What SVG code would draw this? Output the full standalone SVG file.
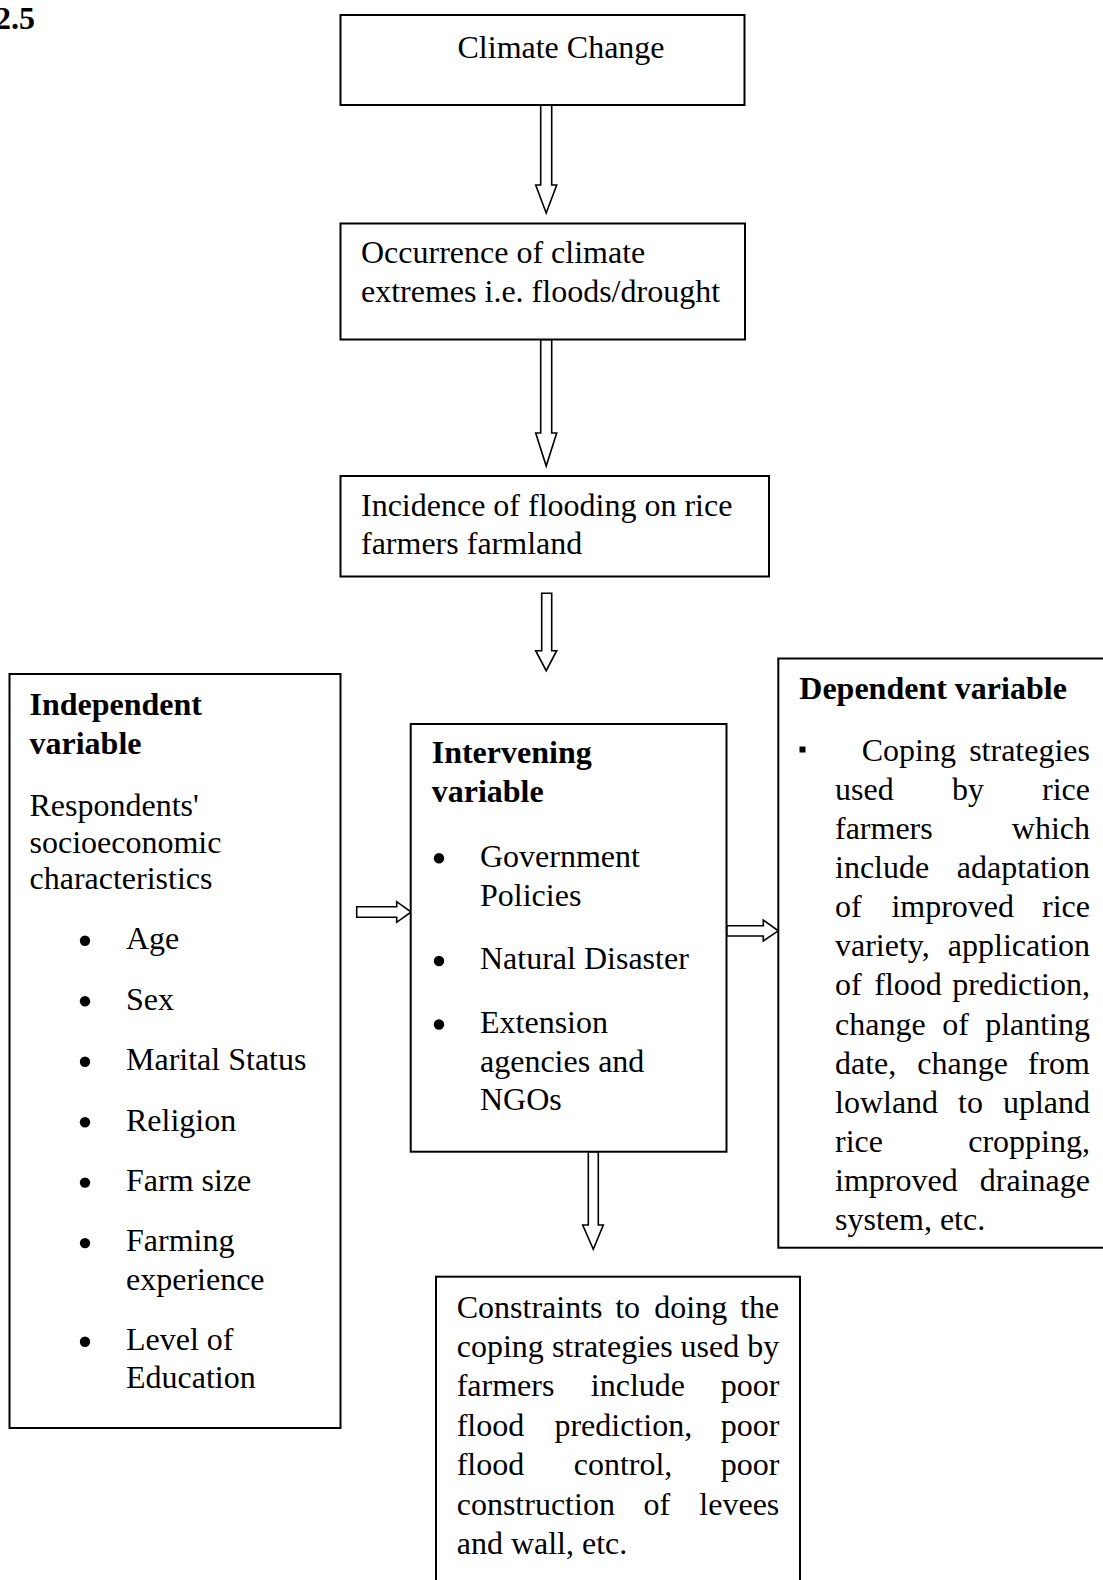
<svg xmlns="http://www.w3.org/2000/svg" width="1103" height="1580" viewBox="0 0 1103 1580">
<style>
.t{font-family:"Liberation Serif","Times New Roman",serif;font-size:32px;fill:#000}
.b{font-weight:bold}
.e{text-anchor:end}
.box{fill:#fff;stroke:#000;stroke-width:2}
.arr{fill:#fff;stroke:#000;stroke-width:1.6;stroke-linejoin:miter}
.dot{fill:#000}
</style>
<rect width="1103" height="1580" fill="#fff"/>
<text class="t b" x="-5" y="28.5">2.5</text>

<g id="connectors">
<polygon class="arr" points="540.7,105 551.7,105 551.7,185 556.7,185 546.2,213 535.7,185 540.7,185"/>
<polygon class="arr" points="540.7,339.5 551.7,339.5 551.7,433 556.7,433 546.2,466 535.7,433 540.7,433"/>
<polygon class="arr" points="541.7,593.3 551.7,593.3 551.7,650.7 556.7,650.7 546.2,670.7 535.7,650.7 541.7,650.7"/>
<polygon class="arr" points="356.7,906.7 396.7,906.7 396.7,901.7 411.2,912 396.7,922.3 396.7,917.3 356.7,917.3"/>
<polygon class="arr" points="726.7,925.7 763.3,925.7 763.3,920 778.3,930.8 763.3,941 763.3,936 726.7,936"/>
<polygon class="arr" points="588.3,1151.7 598.3,1151.7 598.3,1225 603.3,1225 593.3,1249.3 582.7,1225 588.3,1225"/>
</g>

<g id="climate-change">
<rect class="box" x="340.5" y="15" width="404" height="90"/>
<text class="t" x="457.5" y="57.7">Climate Change</text>
</g>

<g id="climate-extremes">
<rect class="box" x="340.5" y="223.5" width="404.5" height="116"/>
<text class="t" x="361" y="263">Occurrence of climate</text>
<text class="t" x="361" y="301.5">extremes i.e. floods/drought</text>
</g>

<g id="flooding">
<rect class="box" x="340.5" y="476" width="428.5" height="100.5"/>
<text class="t" x="361" y="516">Incidence of flooding on rice</text>
<text class="t" x="361" y="554">farmers farmland</text>
</g>

<g id="independent">
<rect class="box" x="9.5" y="674" width="331" height="754"/>
<text class="t b" x="29.5" y="715">Independent</text>
<text class="t b" x="29.5" y="753.5">variable</text>
<text class="t" x="29.5" y="816">Respondents'</text>
<text class="t" x="29.5" y="852.5">socioeconomic</text>
<text class="t" x="29.5" y="888.5">characteristics</text>
<circle class="dot" cx="85" cy="940.7" r="5.2"/><text class="t" x="126" y="949">Age</text>
<circle class="dot" cx="85" cy="1001.3" r="5.2"/><text class="t" x="126" y="1009.6">Sex</text>
<circle class="dot" cx="85" cy="1061.7" r="5.2"/><text class="t" x="126" y="1070">Marital Status</text>
<circle class="dot" cx="85" cy="1122.2" r="5.2"/><text class="t" x="126" y="1130.5">Religion</text>
<circle class="dot" cx="85" cy="1182.6" r="5.2"/><text class="t" x="126" y="1190.9">Farm size</text>
<circle class="dot" cx="85" cy="1243.1" r="5.2"/><text class="t" x="126" y="1251.4">Farming</text>
<text class="t" x="126" y="1289.7">experience</text>
<circle class="dot" cx="85" cy="1341.8" r="5.2"/><text class="t" x="126" y="1350.1">Level of</text>
<text class="t" x="126" y="1388.4">Education</text>
</g>

<g id="intervening">
<rect class="box" x="410.7" y="724" width="315.8" height="427.7"/>
<text class="t b" x="431.7" y="763">Intervening</text>
<text class="t b" x="431.7" y="801.5">variable</text>
<circle class="dot" cx="439" cy="858.3" r="5.2"/><text class="t" x="480" y="866.6">Government</text>
<text class="t" x="480" y="905.5">Policies</text>
<circle class="dot" cx="439" cy="961" r="5.2"/><text class="t" x="480" y="969.3">Natural Disaster</text>
<circle class="dot" cx="439" cy="1024.5" r="5.2"/><text class="t" x="480" y="1032.8">Extension</text>
<text class="t" x="480" y="1071.9">agencies and</text>
<text class="t" x="480" y="1110.3">NGOs</text>
</g>

<g id="dependent">
<rect class="box" x="778.3" y="658.5" width="340" height="589.2"/>
<text class="t b" x="799.3" y="699.3">Dependent variable</text>
<rect x="799.5" y="746.5" width="6" height="6" fill="#000"/>
<text class="t" x="861.7" y="760.8">Coping</text><text class="t e" x="1090" y="760.8">strategies</text>
<text class="t" x="835" y="799.9">used</text><text class="t" x="951.9" y="799.9">by</text><text class="t e" x="1090" y="799.9">rice</text>
<text class="t" x="835" y="839">farmers</text><text class="t e" x="1090" y="839">which</text>
<text class="t" x="835" y="878.1">include</text><text class="t e" x="1090" y="878.1">adaptation</text>
<text class="t" x="835" y="917.2">of</text><text class="t" x="891.4" y="917.2">improved</text><text class="t e" x="1090" y="917.2">rice</text>
<text class="t" x="835" y="956.3">variety,</text><text class="t e" x="1090" y="956.3">application</text>
<text class="t" x="835" y="995.4">of</text><text class="t" x="874.3" y="995.4">flood</text><text class="t e" x="1090" y="995.4">prediction,</text>
<text class="t" x="835" y="1034.5">change</text><text class="t" x="942.3" y="1034.5">of</text><text class="t e" x="1090" y="1034.5">planting</text>
<text class="t" x="835" y="1073.6">date,</text><text class="t" x="917.3" y="1073.6">change</text><text class="t e" x="1090" y="1073.6">from</text>
<text class="t" x="835" y="1112.7">lowland</text><text class="t" x="958.1" y="1112.7">to</text><text class="t e" x="1090" y="1112.7">upland</text>
<text class="t" x="835" y="1151.8">rice</text><text class="t e" x="1090" y="1151.8">cropping,</text>
<text class="t" x="835" y="1190.9">improved</text><text class="t e" x="1090" y="1190.9">drainage</text>
<text class="t" x="835" y="1230">system, etc.</text>
</g>

<g id="constraints">
<rect class="box" x="436" y="1276.7" width="364" height="330"/>
<text class="t" x="456.7" y="1317.5">Constraints</text><text class="t" x="615.2" y="1317.5">to</text><text class="t" x="654.3" y="1317.5">doing</text><text class="t e" x="779.3" y="1317.5">the</text>
<text class="t" x="456.7" y="1356.9">coping</text><text class="t" x="551.9" y="1356.9">strategies</text><text class="t" x="680.5" y="1356.9">used</text><text class="t e" x="779.3" y="1356.9">by</text>
<text class="t" x="456.7" y="1396.3">farmers</text><text class="t" x="590.8" y="1396.3">include</text><text class="t e" x="779.3" y="1396.3">poor</text>
<text class="t" x="456.7" y="1435.7">flood</text><text class="t" x="554.4" y="1435.7">prediction,</text><text class="t e" x="779.3" y="1435.7">poor</text>
<text class="t" x="456.7" y="1475.1">flood</text><text class="t" x="573.7" y="1475.1">control,</text><text class="t e" x="779.3" y="1475.1">poor</text>
<text class="t" x="456.7" y="1514.5">construction</text><text class="t" x="643.5" y="1514.5">of</text><text class="t e" x="779.3" y="1514.5">levees</text>
<text class="t" x="456.7" y="1553.9">and wall, etc.</text>
</g>
</svg>
